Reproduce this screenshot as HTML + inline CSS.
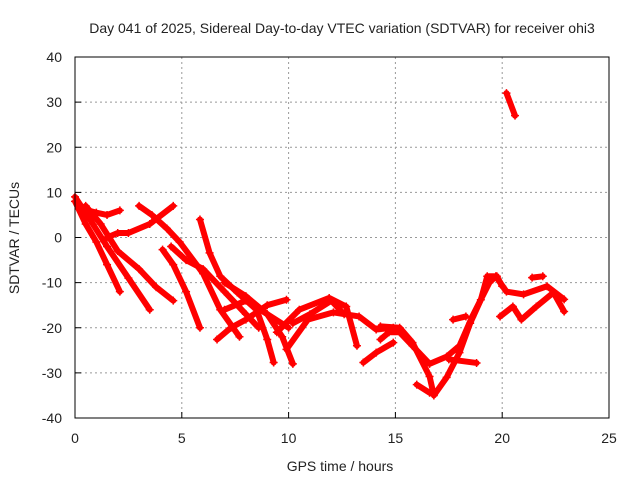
<!DOCTYPE html>
<html><head><meta charset="utf-8"><style>
body{margin:0;background:#fff}
svg text{font-family:"Liberation Sans",sans-serif;font-size:14px;fill:#222}
</style></head><body>
<svg id="chart" width="640" height="480" xmlns="http://www.w3.org/2000/svg">
<text x="342" y="33" text-anchor="middle">Day 041 of 2025, Sidereal Day-to-day VTEC variation (SDTVAR) for receiver ohi3</text>
<g id="grid"></g>
<g id="series"></g>
<rect x="75" y="57" width="534" height="361" fill="none" stroke="#000" stroke-width="1"/>
<g id="ticks"></g>
<text x="340" y="471" text-anchor="middle">GPS time / hours</text>
<text transform="translate(19,238) rotate(-90)" text-anchor="middle">SDTVAR / TECUs</text>
</svg>
<script>
const xTicks=[0,5,10,15,20,25];
const yTicks=[-40,-30,-20,-10,0,10,20,30,40];
const tracksX=[
[0,0.5,1,1.5,2.1],
[0,0.7,1.5,2.5,3.5],
[0.5,1.2,2,3,3.8,4.6],
[0.2,0.6,1,1.5,2.1],
[1.5,2,2.5,3.5,4.6],
[3,3.6,4.3,4.9,6,6.8,7.7],
[4.1,4.6,5.2,5.85],
[4.5,5.2,6,7,8,8.6],
[5.85,6.3,6.8,7.6,8.5,9,9.3],
[6.65,7.3,8,9,9.9],
[7,8,9,9.7,10.2],
[9.45,10.5,11.9,12.7,13.2],
[9.9,10.9,12.1,13.3,14.1,14.9,15.5],
[13.5,14.1,14.9],
[14.3,14.7,15.2,15.8,16.6,17.4,18,18.6,19.4,19.7,20.2,21,22.1,22.9],
[14.3,15.2,15.8,16.6,16.8,17.4,18,18.5,19,19.3,19.75,20],
[19.9,20.5,20.9,21.6,22.4,22.9],
[16,16.6],
[17.7,18.3],
[17.5,18.8],
[21.4,21.9],
[20.2,20.6],
[10.2,11,12,12.6],
[7,8,9,10]
];
const tracksY=[
[8,3,-1,-6,-12],
[9,4,-2,-9,-16],
[7,3,-3,-7,-11,-14],
[7,6,5.5,5,6],
[0,1,1,3,7],
[7,5,2,-1,-8,-16,-22],
[-2.7,-6,-12,-20],
[-2,-5,-7,-12,-17,-20],
[4,-3.4,-8.6,-12.2,-16,-22.6,-27.7],
[-22.6,-20,-18.2,-15,-13.8],
[-10,-13,-17,-22,-28],
[-21,-16,-13.4,-15.3,-24],
[-24.8,-18.2,-16.6,-17.5,-20.4,-20,-22],
[-27.7,-25.5,-23.3],
[-22.6,-21,-21,-24,-28,-26.4,-24,-17.5,-10,-8.6,-12,-12.6,-10.8,-13.7],
[-19.7,-20,-23.3,-30.8,-35,-31,-25.5,-19,-13.8,-8.6,-8.6,-10.8],
[-17.5,-15.3,-18.2,-15.3,-12.2,-16.4],
[-32.6,-34.4],
[-18.2,-17.5],
[-27,-27.8],
[-8.9,-8.6],
[32,27],
[-19,-17,-14,-17],
[-16,-14,-17,-20]
];
const ns='http://www.w3.org/2000/svg';
const X0=75,X1=609,Y0=418,Y1=57;
const sx=v=>X0+(v-0)/(25-0)*(X1-X0);
const sy=v=>Y0-(v+40)/80*(Y0-Y1);
const grid=document.getElementById('grid'),ticks=document.getElementById('ticks'),ser=document.getElementById('series');
function mk(t,a,p){const e=document.createElementNS(ns,t);for(const k in a)e.setAttribute(k,a[k]);p.appendChild(e);return e;}
xTicks.forEach(v=>{
  const x=sx(v);
  if(v>0&&v<25){const g=mk('line',{x1:x,x2:x,y1:Y1,y2:Y0,stroke:'#999','stroke-dasharray':'2,3'},grid);
  
  }
  const tk=mk('line',{x1:x,x2:x,y1:Y0,y2:Y0-6,stroke:'#000'},ticks);
  
  
  const t=mk('text',{x:x,y:443,'text-anchor':'middle'},ticks);t.textContent=v;
  
  
});
yTicks.forEach(v=>{
  const y=sy(v);
  if(v>-40&&v<40){const g=mk('line',{x1:X0,x2:X1,y1:y,y2:y,stroke:'#999','stroke-dasharray':'2,3'},grid);
  
  }
  const tk=mk('line',{x1:X0,x2:X0+6,y1:y,y2:y,stroke:'#000'},ticks);
  
  
  const t=mk('text',{x:62,y:y+5,'text-anchor':'end'},ticks);t.textContent=v;
  
  
});
tracksX.forEach((xs,i)=>{
  const ys=tracksY[i];
  const pts=xs.map((x,j)=>sx(x)+','+sy(ys[j])).join(' ');
  const p=mk('polyline',{points:pts,fill:'none',stroke:'#f00','stroke-width':6,'stroke-linejoin':'round','stroke-linecap':'round'},ser);
  
  
  xs.forEach((x,j)=>{
    const cx=sx(x),cy=sy(ys[j]);
    const m=mk('path',{d:`M${cx-4},${cy}H${cx+4}M${cx},${cy-4}V${cy+4}`,stroke:'#f00','stroke-width':1.5},ser);
    
    
  });
});
</script>
</body></html>
